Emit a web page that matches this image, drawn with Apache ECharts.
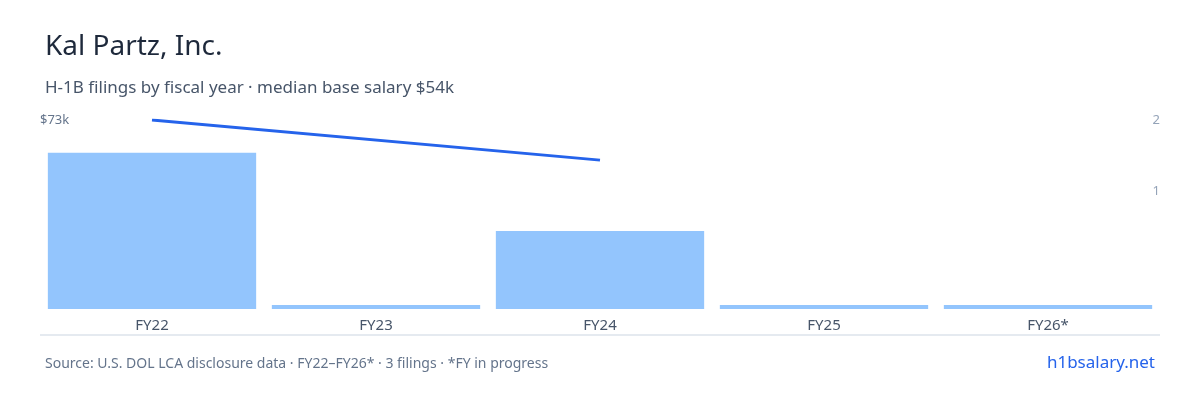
<!DOCTYPE html><html><head><meta charset="utf-8"><script src="https://cdn.jsdelivr.net/npm/echarts@6/dist/echarts.min.js"></script>
<style>body{margin:0}#c{width:1200px;height:400px}</style></head><body><div id="c"></div><script>
const categories=['FY22','FY23','FY24','FY25','FY26*'];
const filings=[2,0,1,0,0];
const salaryK=[73,null,57.5,null,null];
const chart=echarts.init(document.getElementById('c'));
const F='Noto Sans';
chart.setOption({
 animation:false,
 textStyle:{fontFamily:F},
 title:[{text:'Kal Partz, Inc.',left:40,top:28,textStyle:{fontSize:28,fontWeight:'normal',color:'#1e293b',fontFamily:F}},
  {text:'H-1B filings by fiscal year · median base salary $54k',left:40,top:75,textStyle:{fontSize:17,fontWeight:'normal',color:'#475569',fontFamily:F}},
  {text:'Source: U.S. DOL LCA disclosure data · FY22–FY26* · 3 filings · *FY in progress',left:40,top:352,textStyle:{fontSize:14,fontWeight:'normal',color:'#64748b',fontFamily:F}},
  {text:'h1bsalary.net',right:40,top:350,textStyle:{fontSize:17,fontWeight:'normal',color:'#2563eb',fontFamily:F}}],
 grid:{left:40,right:40,top:120,bottom:91},
 xAxis:{type:'category',data:categories,axisLine:{show:false},axisTick:{show:false},axisLabel:{color:'#475569',fontSize:15,margin:9}},
 yAxis:[
  {type:'value',min:0,max:2.42,show:false},
  {type:'value',min:0,max:73,position:'left',splitLine:{show:false},axisLine:{show:false},axisTick:{show:false},
   axisLabel:{customValues:[73],inside:true,verticalAlign:'middle',formatter:v=>'$'+v+'k',color:'#64748b',fontSize:13,margin:0}},
  {type:'value',min:-0.66,max:2,position:'right',splitLine:{show:false},axisLine:{show:false},axisTick:{show:false},
   axisLabel:{customValues:[1,2],inside:true,align:'right',verticalAlign:'middle',color:'#94a3b8',fontSize:13,margin:0}}],
 series:[
  {type:'bar',data:filings,yAxisIndex:0,barCategoryGap:'7%',barMinHeight:4,itemStyle:{color:'#93c5fd'}},
  {type:'line',data:salaryK,yAxisIndex:1,connectNulls:true,symbol:'none',lineStyle:{color:'#2563eb',width:3}}],
 graphic:[{type:'line',shape:{x1:40,y1:335,x2:1160,y2:335},style:{stroke:'#cbd5e1',lineWidth:1}}]
});
</script></body></html>
